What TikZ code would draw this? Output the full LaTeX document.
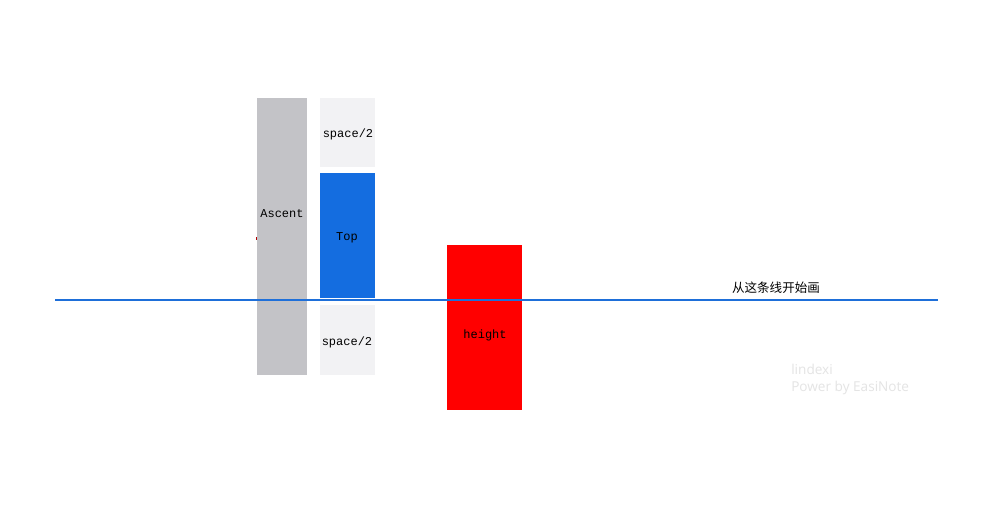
\documentclass[tikz,border=0pt]{standalone}
\usepackage{fontspec}
\setmainfont{Liberation Sans}
\newfontfamily\cjk{Noto Sans CJK SC}
\newfontfamily\wmfont{Open Sans}
\newfontfamily\monofont{Liberation Mono}
\definecolor{ascgray}{HTML}{C3C3C7}
\definecolor{spacegray}{HTML}{F2F2F4}
\definecolor{topblue}{HTML}{146DE0}
\definecolor{lineblue}{HTML}{1E6FD9}
\definecolor{wmgray}{HTML}{E4E4E4}
\tikzset{
  blk/.style={inner sep=0pt, outer sep=0pt, font=\monofont\fontsize{9}{10}\selectfont, text=black},
  wm/.style={font=\wmfont\fontsize{10.2}{12}\selectfont, text=wmgray, anchor=west, inner sep=0pt},
}
\begin{document}
\begin{tikzpicture}[x=0.75pt,y=-0.75pt]
\useasboundingbox[fill=white] (0,0) rectangle (1007,504);
\fill[ascgray] (257,98) rectangle (307,375);
\node[blk] (asc) at (282,214) {Ascent};
\fill[spacegray] (320,98) rectangle (375,167);
\node[blk] (sp1) at (348,134) {space/2};
\fill[topblue] (320,173) rectangle (375,298);
\node[blk] (top) at (347,238) {Top};
\fill[spacegray] (320,305) rectangle (375,375);
\node[blk] (sp2) at (347,342) {space/2};
\fill[red] (447,245) rectangle (522,410);
\node[blk] (hgt) at (485,335) {height};
\fill[red!70!black] (255.5,236.5) rectangle (257,239.5);
\coordinate (l1) at (55,300);
\coordinate (l2) at (938,300);
\draw[lineblue, line width=1.5pt] (l1) -- (l2);
\node[font=\cjk\fontsize{9.4}{11}\selectfont, inner sep=0pt] (lbl) at (776,288) {从这条线开始画};
\node[wm] (wm1) at (791,369) {lindexi};
\node[wm] (wm2) at (791,388) {Power by EasiNote};
\end{tikzpicture}
\end{document}
